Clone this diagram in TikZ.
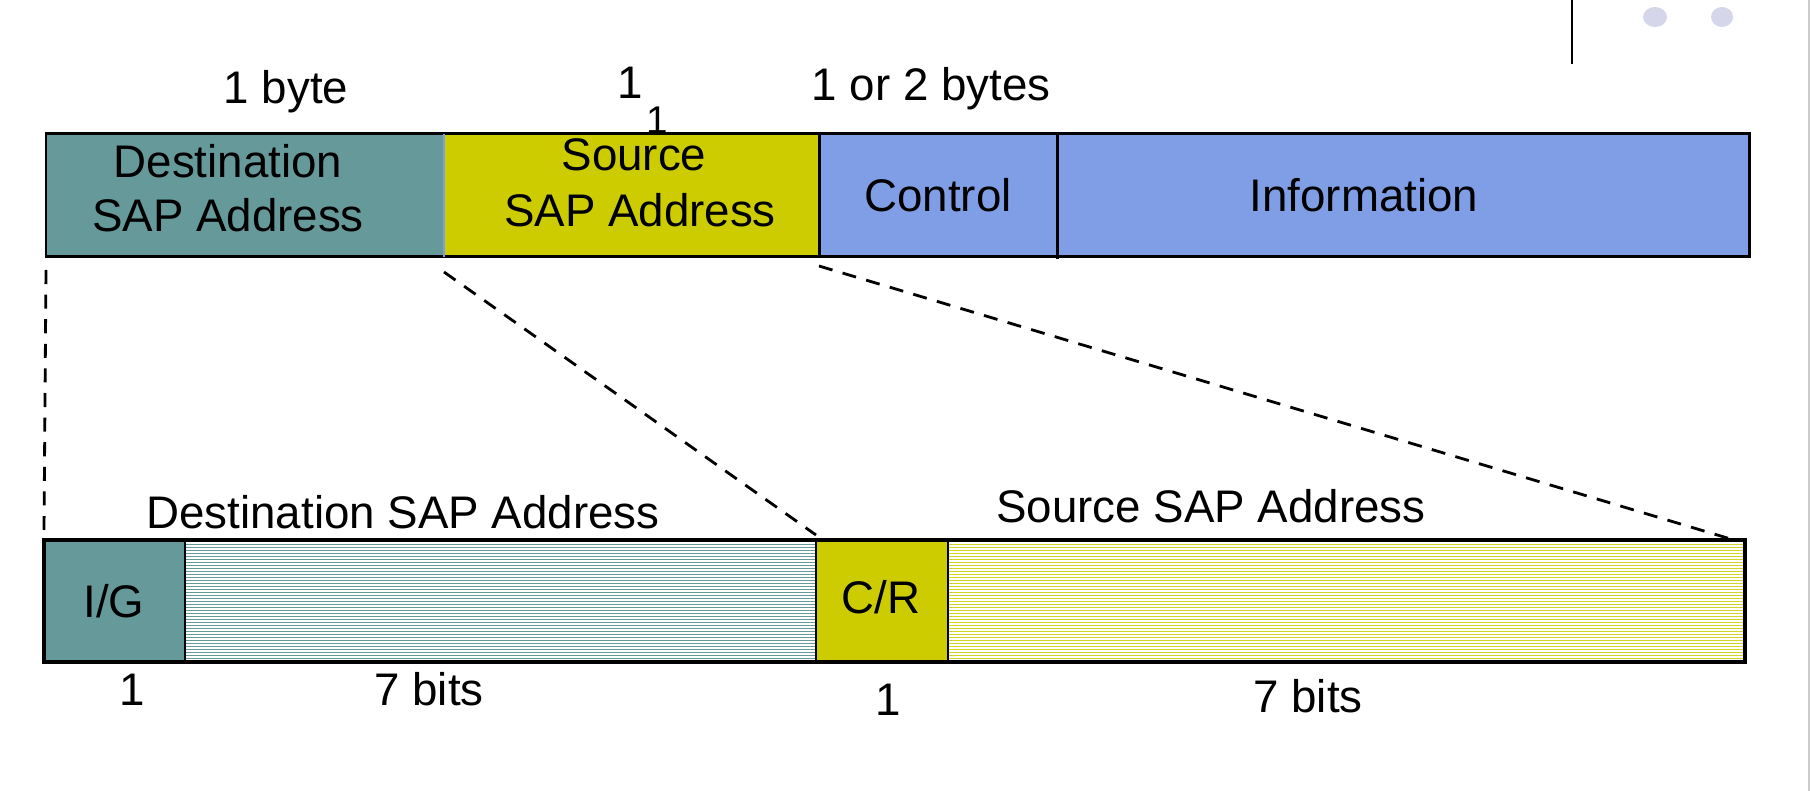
\documentclass[tikz,border=0pt]{standalone}
\usepackage{fontspec}
\setmainfont{Liberation Sans}
\usepackage{tikz}
\usetikzlibrary{positioning}

\definecolor{destteal}{RGB}{102,153,153}
\definecolor{srcyellow}{RGB}{204,204,0}
\definecolor{stripeyellow}{RGB}{212,212,40}
\definecolor{ctrlblue}{RGB}{128,158,230}
\definecolor{dotgray}{RGB}{214,214,234}

\begin{document}
\begin{tikzpicture}[x=0.1mm, y=-0.1mm,
  cell/.style={shape=rectangle, inner sep=0pt, outer sep=0pt},
  txt/.style={inner sep=0pt, font=\fontsize{13}{15.4}\selectfont},
  guide/.style={dash pattern=on 4pt off 3pt, line width=0.8pt}]

\useasboundingbox (0,0) rectangle (1812,791);

% LLC frame
\node[cell, fill=destteal, minimum width=39.8mm, minimum height=12.3mm, anchor=north west] (dest) at (46,134) {};
\node[cell, fill=srcyellow, minimum width=37.5mm, minimum height=12.3mm, right=0pt of dest] (src) {};
\node[cell, fill=ctrlblue, minimum width=23.8mm, minimum height=12.3mm, right=0pt of src] (ctrl) {};
\node[cell, fill=ctrlblue, minimum width=69.2mm, minimum height=12.3mm, right=0pt of ctrl] (info) {};

\draw[line width=0.85pt] (dest.north west) rectangle (info.south east);
\draw[ctrlblue, line width=0.6pt] (dest.north east) -- (dest.south east);
\draw[line width=0.85pt] (src.north east) -- (src.south east);
\draw[line width=0.85pt] (info.north west) -- ([yshift=-0.2mm]info.south west);

% address bytes
\node[cell, fill=destteal, minimum width=14.1mm, minimum height=12.2mm, anchor=north west] (ig) at (44,540) {};
\node[cell, fill=white, minimum width=63.1mm, minimum height=12.2mm, right=0pt of ig] (dbits) {};
\node[cell, fill=srcyellow, minimum width=13.2mm, minimum height=12.2mm, right=0pt of dbits] (cr) {};
\node[cell, fill=white, minimum width=79.7mm, minimum height=12.2mm, right=0pt of cr] (sbits) {};

\foreach \y in {541.5,544.5,...,661.5} {
  \draw[destteal, line width=0.5pt] (185,\y) -- (816,\y);
  \draw[stripeyellow, line width=0.5pt] (948,\y) -- (1745,\y);
}

\draw[line width=1pt] (ig.north west) rectangle (sbits.south east);
\draw[line width=0.7pt] (ig.north east) -- (ig.south east);
\draw[line width=0.7pt] (cr.north west) -- (cr.south west);
\draw[line width=0.7pt] (cr.north east) -- (cr.south east);

\draw[guide] ([yshift=-1.3mm]dest.south west) -- ([yshift=1mm]ig.north west);
\draw[guide] ([yshift=-1.5mm]dest.south east) -- ([yshift=0.5mm]cr.north west);
\draw[guide] ([yshift=-0.9mm]src.south east) -- ([xshift=-1.1mm]sbits.north east);

% labels
\node[txt, anchor=base] (bytelbl) at (286,104) {1 byte};
\node[txt, anchor=base] (onelbl) at (630,99) {1};
\node[txt, anchor=base, font=\fontsize{11}{13}\selectfont] (onetick) at (657,134) {1};
\node[txt, anchor=base] (ctrlsize) at (931,101) {1 or 2 bytes};
\node[txt, anchor=base] (destlbl) at (228,178) {Destination};
\node[txt, anchor=base] (destlbl2) at (228,232) {SAP Address};
\node[txt, anchor=base] (srclbl) at (634,171) {Source};
\node[txt, anchor=base] (srclbl2) at (640,227) {SAP Address};
\node[txt, anchor=base] (ctrllbl) at (938,212) {Control};
\node[txt, anchor=base] (infolbl) at (1364,212) {Information};

\node[txt, anchor=base] (dsaplbl) at (403,528) {Destination SAP Address};
\node[txt, anchor=base] (ssaplbl) at (1211,523) {Source SAP Address};
\node[txt, anchor=base] (iglbl) at (114,617) {I/G};
\node[txt, anchor=base] (crlbl) at (881,613) {C/R};
\node[txt, anchor=base] (igsize) at (132,705) {1};
\node[txt, anchor=base] (dbitsize) at (429,705) {7 bits};
\node[txt, anchor=base] (crsize) at (888,715) {1};
\node[txt, anchor=base] (sbitsize) at (1308,712) {7 bits};

% slide corner
\draw[line width=0.55pt] (1572,0) -- (1572,64);
\fill[dotgray] (1655,17) ellipse [x radius=1.2mm, y radius=1mm];
\fill[dotgray] (1722,17) ellipse [x radius=1.1mm, y radius=1mm];
\draw[gray!40, line width=0.45pt] (1809,0) -- (1809,791);
\end{tikzpicture}
\end{document}
